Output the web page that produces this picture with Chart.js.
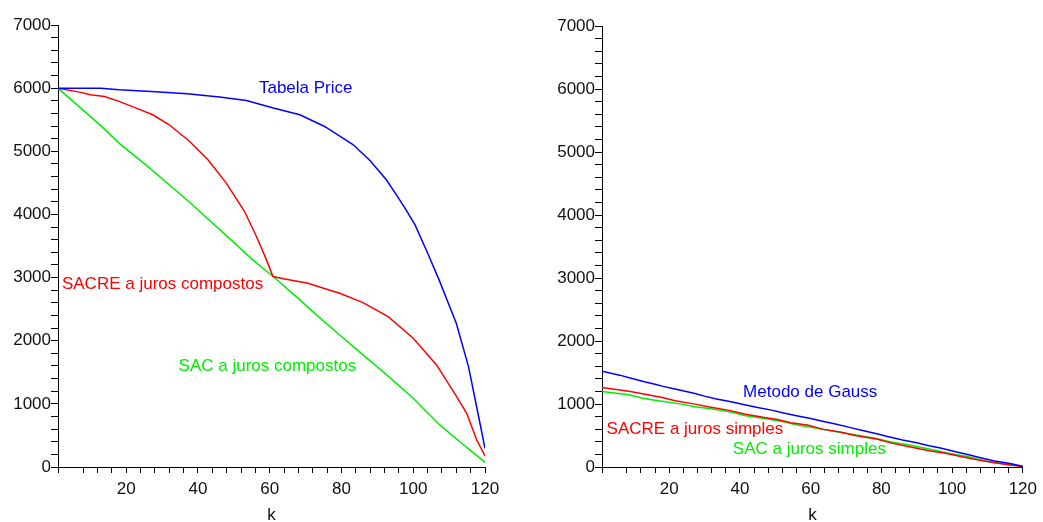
<!DOCTYPE html>
<html><head><meta charset="utf-8">
<script src="https://cdn.jsdelivr.net/npm/chart.js@4.4.1/dist/chart.umd.min.js"></script>
<style>
html,body{margin:0;padding:0;background:#fff;}
#wrap{position:relative;width:1043px;height:522px;}
.box{position:absolute;top:0;height:522px;}
#b1{left:0;width:521px;}
#b2{left:521px;width:522px;}
</style></head><body>
<div id="wrap"><div class="box" id="b1"><canvas id="c1"></canvas></div><div class="box" id="b2"><canvas id="c2"></canvas></div></div>
<script>
// ---- Left chart data ----
const kPrice = [1,13,18,27,37,46,53.5,61,68.4,75.3,83.3,88,92.5,95,98,100.5,104,107.2,112,115.4,118.6,120];
const vPrice = [6000,6000,5975,5948,5911,5858,5805,5684,5578,5393,5103,4850,4548,4337,4073,3835,3390,2963,2277,1590,693,296];

const kSacreC = [1,7,10,14,18,22.8,27.4,32,37.7,42.8,47.9,53,56.3,59.1,60.9,64.2,70.7,75,79.5,86,93,100,106.5,112.1,114.9,117.7,120];
const vSacreC = [6000,5937,5895,5868,5790,5684,5578,5420,5156,4865,4496,4046,3650,3280,3016,2979,2911,2831,2752,2604,2382,2040,1616,1114,851,428,174];

const kSacC = [1,13,18,26,38,48,55.3,61.2,67.4,73,80,86,92.6,100,107.4,113,120];
const vSacC = [6000,5403,5130,4760,4178,3660,3280,3005,2699,2409,2066,1775,1458,1089,666,400,74];

// ---- Right chart data ----
const kGauss = [1,6,9.5,13,16,18,21,24.5,27,30,33,37.5,41,45,49,52,56,60,64,67,71,75,79,82,86,90,93.5,97,101,105,108,112,116,120];
const vGauss = [1521,1458,1405,1352,1315,1284,1247,1204,1172,1125,1085,1035,993,946,903,861,814,771,718,681,629,576,523,481,428,386,338,296,243,190,148,95,58,12];

const kSacreS = [1,8.6,12.8,18,21.7,27.3,31,36.6,41.3,46.9,50.6,54.3,59,63.6,68.3,72.9,78.6,83.2,87.9,93.5,98.1,102.8,107.5,112.1,115.9,120];
const vSacreS = [1263,1204,1157,1104,1051,998,956,903,840,787,755,703,666,597,555,497,444,375,322,259,217,164,111,69,37,5];

const kSacS = [1,8.6,12.8,17,23.5,27.3,31.9,37.5,41.3,46.9,52.4,56.2,61.8,67.4,72.9,78.6,82.3,87.9,93.5,99.1,104.7,110.2,114.9,120];
const vSacS = [1199,1146,1088,1051,998,956,924,872,819,771,718,666,613,560,507,454,401,349,285,217,164,85,48,11];

const xMajorLabels = [20,40,60,80,100,120];
const yMajorLabels = [0,1000,2000,3000,4000,5000,6000,7000];

const FONT = "'Liberation Sans', Arial, sans-serif";

function pts(ks, vs){ return ks.map((k,i)=>({x:k, y:vs[i]})); }

const textPlugin = {
  id: 'curveLabels',
  afterDatasetsDraw(chart, args, opts){
    const ctx = chart.ctx;
    const xs = chart.scales.x, ys = chart.scales.y;
    ctx.save();
    ctx.font = '17px ' + FONT;
    ctx.textAlign = 'left';
    ctx.textBaseline = 'middle';
    (opts.items||[]).forEach(it=>{
      ctx.fillStyle = it.color;
      ctx.fillText(it.text, xs.getPixelForValue(it.x), ys.getPixelForValue(it.y));
    });
    ctx.restore();
  }
};

function ds(ks, vs, color){
  return {data: pts(ks,vs), borderColor: color, backgroundColor: color, borderWidth: 1.5,
          pointRadius: 0, tension: 0, fill: false};
}

function makeChart(id, datasets, yWidth, padRight, padTop, items){
  return new Chart(document.getElementById(id), {
    type: 'line',
    data: {datasets},
    plugins: [textPlugin],
    options: {
      responsive: true, maintainAspectRatio: false, animation: false,
      layout: {padding: {top: padTop, right: padRight, left: 0, bottom: 0}},
      plugins: {legend: {display: false}, tooltip: {enabled: false}, curveLabels: {items}},
      scales: {
        x: {
          type: 'linear', min: 1, max: 120,
          afterFit(s){ s.height = 55; },
          border: {color: '#000', width: 1},
          grid: {drawOnChartArea: false, tickLength: 6, color: '#000'},
          ticks: {stepSize: 4, autoSkip: false, maxRotation: 0, color: '#111', padding: 6,
                  font: {family: FONT, size: 17},
                  callback: v => xMajorLabels.includes(v) ? String(v) : ''},
          title: {display: true, text: 'k', color: '#111', font: {family: FONT, size: 17, lineHeight: 0.8},
                  padding: {top: 0, bottom: 0}}
        },
        y: {
          type: 'linear', min: 0, max: 7000,
          afterFit(s){ s.width = yWidth; },
          border: {color: '#000', width: 1},
          grid: {drawOnChartArea: false, tickLength: 7, color: '#000'},
          ticks: {stepSize: 200, autoSkip: false, color: '#111', padding: 0,
                  font: {family: FONT, size: 17},
                  callback: v => yMajorLabels.includes(v) ? String(v) : ''}
        }
      }
    }
  });
}

makeChart('c1', [
  ds(kPrice, vPrice, '#0000ff'),
  ds(kSacreC, vSacreC, '#ff0000'),
  ds(kSacC, vSacC, '#00ee00')
], 58, 36, 25, [
  {text: 'Tabela Price', x: 57, y: 5990, color: '#0000ff'},
  {text: 'SACRE a juros compostos', x: 2.1, y: 2900, color: '#ff0000'},
  {text: 'SAC a juros compostos', x: 34.6, y: 1590, color: '#00ee00'}
]);

makeChart('c2', [
  ds(kGauss, vGauss, '#0000ff'),
  ds(kSacreS, vSacreS, '#ff0000'),
  ds(kSacS, vSacS, '#00ee00')
], 81, 15, 26, [
  {text: 'Metodo de Gauss', x: 40.9, y: 1193, color: '#0000ff'},
  {text: 'SACRE a juros simples', x: 2.3, y: 597, color: '#ff0000'},
  {text: 'SAC a juros simples', x: 38, y: 280, color: '#00ee00'}
]);
</script>
</body></html>
